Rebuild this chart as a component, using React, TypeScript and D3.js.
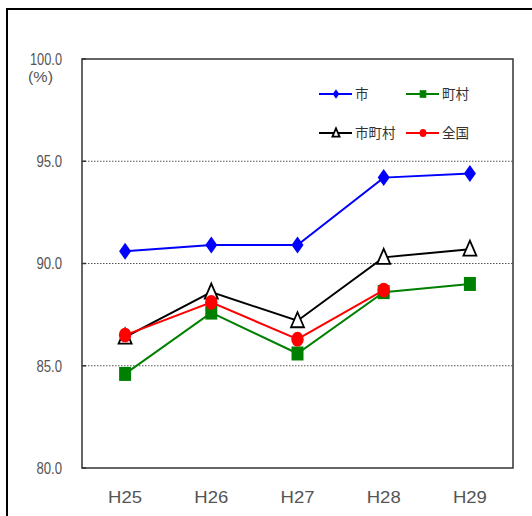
import React from "react";
import * as d3 from "d3";

const categories = ["H25", "H26", "H27", "H28", "H29"];
const shi = [90.6, 90.9, 90.9, 94.2, 94.4];
const choson = [84.6, 87.6, 85.6, 88.6, 89.0];
const shichoson = [86.4, 88.6, 87.2, 90.3, 90.7];
const zenkoku = [86.5, 88.1, 86.3, 88.7];
const yTicks = [80, 85, 90, 95, 100];
const gridTicks = [85, 90, 95];

const W = 532;
const H = 516;
const plot = { left: 82, top: 59, right: 513, bottom: 468 };

type Marker = "diamond" | "square" | "triangle" | "circle";

function markerPath(kind: Marker): string {
  if (kind === "diamond") return "M0,-8.5 L6,0 L0,8.5 L-6,0 Z";
  if (kind === "square") return "M-6,-7 H6 V7 H-6 Z";
  if (kind === "triangle") return "M0,-8.5 L6.5,6.5 L-6.5,6.5 Z";
  return "";
}

function MarkerShape({ kind, x, y, color, size = 1 }: { kind: Marker; x: number; y: number; color: string; size?: number }) {
  if (kind === "circle") {
    return <ellipse cx={x} cy={y} rx={6.2 * size} ry={7.4 * size} fill={color} />;
  }
  if (kind === "triangle") {
    return (
      <path
        d={markerPath(kind)}
        transform={`translate(${x},${y}) scale(${size})`}
        fill="#fff"
        stroke={color}
        strokeWidth={1.8 / size}
      />
    );
  }
  return <path d={markerPath(kind)} transform={`translate(${x},${y}) scale(${size})`} fill={color} />;
}

export default function App() {
  const x = d3
    .scaleBand<string>()
    .domain(categories)
    .range([plot.left, plot.right]);
  const y = d3.scaleLinear().domain([80, 100]).range([plot.bottom, plot.top]);
  const cx = (c: string) => (x(c) ?? 0) + x.bandwidth() / 2;

  const line = d3
    .line<number>()
    .x((_, i) => cx(categories[i]))
    .y((d) => y(d));

  const series: { name: string; values: number[]; color: string; marker: Marker }[] = [
    { name: "町村", values: choson, color: "#008000", marker: "square" },
    { name: "市町村", values: shichoson, color: "#000000", marker: "triangle" },
    { name: "市", values: shi, color: "#0000ff", marker: "diamond" },
    { name: "全国", values: zenkoku, color: "#ff0000", marker: "circle" },
  ];

  const legend: { name: string; color: string; marker: Marker; lx: number; ly: number }[] = [
    { name: "市", color: "#0000ff", marker: "diamond", lx: 319, ly: 94 },
    { name: "町村", color: "#008000", marker: "square", lx: 406, ly: 94 },
    { name: "市町村", color: "#000000", marker: "triangle", lx: 319, ly: 133 },
    { name: "全国", color: "#ff0000", marker: "circle", lx: 406, ly: 133 },
  ];

  const numFont = "'Liberation Sans', Arial, sans-serif";
  const jpFont = "'Noto Sans CJK JP', sans-serif";

  return (
    <svg
      width={W}
      height={H}
      style={{ position: "absolute", left: 0, top: 0, background: "#fff" }}
    >
      <rect x={0} y={0} width={W} height={H} fill="#fff" />
      {/* outer frame */}
      <rect x={7} y={9} width={W + 20} height={H + 20} fill="none" stroke="#000" strokeWidth={2} />

      {/* grid lines */}
      {gridTicks.map((t) => (
        <line
          key={t}
          x1={plot.left}
          x2={plot.right}
          y1={y(t)}
          y2={y(t)}
          stroke="#555"
          strokeWidth={1}
          strokeDasharray="1.5,1.5"
        />
      ))}

      {/* plot frame */}
      <rect
        x={plot.left}
        y={plot.top}
        width={plot.right - plot.left}
        height={plot.bottom - plot.top}
        fill="none"
        stroke="#333"
        strokeWidth={1.5}
      />

      {/* y ticks */}
      {yTicks.map((t) => {
        const label = t.toFixed(1);
        return (
          <g key={t}>
            <line x1={plot.left} x2={plot.left + 4} y1={y(t)} y2={y(t)} stroke="#333" strokeWidth={1.5} />
            <text
              x={62}
              y={y(t)}
              dy="0.36em"
              textAnchor="end"
              fontFamily={numFont}
              fontSize={16}
              fill="#555"
              textLength={label.length * 6.4}
              lengthAdjust="spacingAndGlyphs"
            >
              {label}
            </text>
          </g>
        );
      })}
      <text
        x={28}
        y={82}
        fontFamily={numFont}
        fontSize={15}
        fill="#555"
        textLength={25}
        lengthAdjust="spacingAndGlyphs"
      >
        (%)
      </text>

      {/* x labels */}
      {categories.map((c) => (
        <text
          key={c}
          x={cx(c)}
          y={503}
          textAnchor="middle"
          fontFamily={numFont}
          fontSize={17}
          fill="#555"
          textLength={34}
          lengthAdjust="spacingAndGlyphs"
        >
          {c}
        </text>
      ))}

      {/* series */}
      {series.map((s) => (
        <g key={s.name}>
          <path d={line(s.values) ?? ""} fill="none" stroke={s.color} strokeWidth={2} />
          {s.values.map((v, i) => (
            <MarkerShape key={i} kind={s.marker} x={cx(categories[i])} y={y(v)} color={s.color} />
          ))}
        </g>
      ))}

      {/* legend */}
      {legend.map((l) => (
        <g key={l.name}>
          <line x1={l.lx} x2={l.lx + 33} y1={l.ly} y2={l.ly} stroke={l.color} strokeWidth={2} />
          <MarkerShape kind={l.marker} x={l.lx + 17} y={l.ly} color={l.color} size={0.55} />
          <text
            x={l.lx + 36}
            y={l.ly}
            dy="0.36em"
            fontFamily={jpFont}
            fontSize={13.5}
            fill="#333"
          >
            {l.name}
          </text>
        </g>
      ))}
    </svg>
  );
}
